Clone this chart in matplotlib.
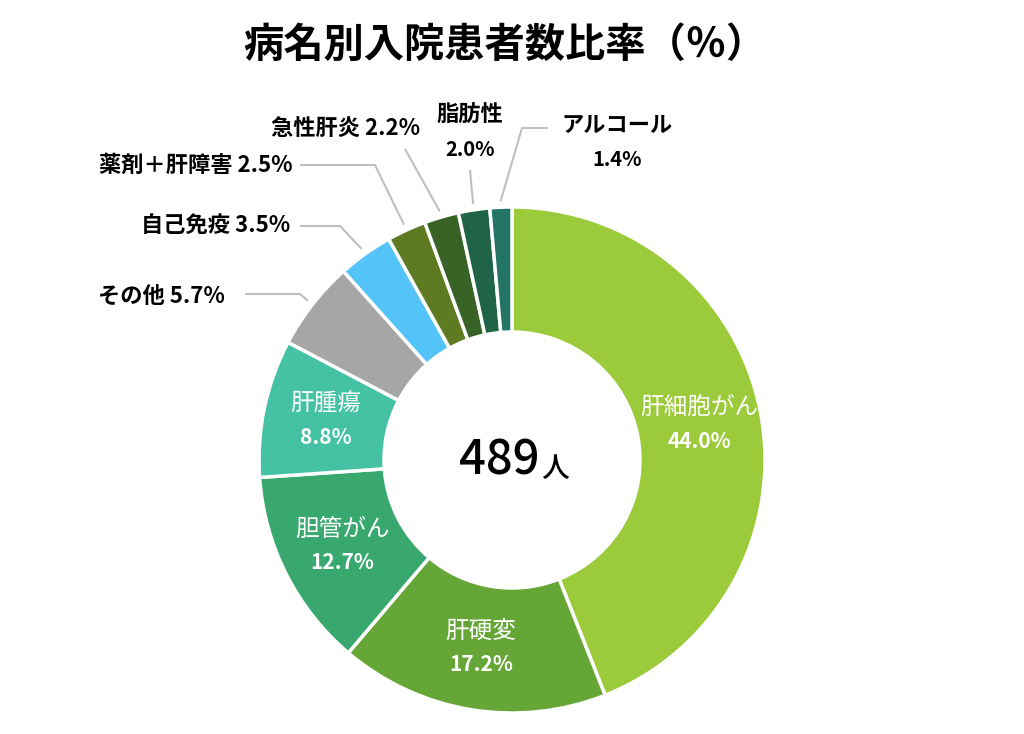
import matplotlib
matplotlib.use('Agg')
import matplotlib.pyplot as plt
import numpy as np

plt.rcParams['font.family'] = ['Noto Sans CJK JP', 'DejaVu Sans']

# Data (clockwise from 12 o'clock)
names = ["肝細胞がん", "肝硬変", "胆管がん", "肝腫瘍", "その他",
         "自己免疫", "薬剤＋肝障害", "急性肝炎", "脂肪性", "アルコール"]
shares = [44.0, 17.2, 12.7, 8.8, 5.7, 3.5, 2.5, 2.2, 2.0, 1.4]
colors = ["#9BCB3B", "#65A637", "#38A86E", "#45C2A3", "#A6A6A6",
          "#53C3F8", "#5E7B22", "#386226", "#1F6446", "#257567"]
total = 489
title = "病名別入院患者数比率（％）"

R_OUT = 253
R_IN = 128

fig = plt.figure(figsize=(10.24, 7.34), dpi=100)
ax = fig.add_axes([0, 0, 1, 1])

wedges, _ = ax.pie(shares, colors=colors, startangle=90, counterclock=False,
                   radius=R_OUT,
                   wedgeprops=dict(width=R_OUT - R_IN, edgecolor='white', linewidth=2.5))

# pie() resets the limits, so set them afterwards
ax.set_xlim(-512, 512)
ax.set_ylim(-274, 460)
ax.set_aspect('equal')
ax.axis('off')

def mid_angle(w):
    return np.deg2rad((w.theta1 + w.theta2) / 2)

# inside labels for the four big slices
r_mid = (R_OUT + R_IN) / 2
for i in range(4):
    a = mid_angle(wedges[i])
    x, y = r_mid * np.cos(a), r_mid * np.sin(a)
    ax.text(x, y + 17, names[i], color='white', fontsize=17,
            ha='center', va='center')
    ax.text(x, y - 17, f"{shares[i]:.1f}%", color='white', fontsize=15,
            fontweight='bold', ha='center', va='center')

# pixel (from top-left) -> data
def px(x, y):
    return x - 512, 460 - y

# outside labels: text anchor and leader line start points
outside = {
    4: dict(text=(225, 296), ha='right', path=[(245, 294), (300, 294)]),
    5: dict(text=(290, 226), ha='right', path=[(300, 226), (340, 226)]),
    6: dict(text=(293, 165), ha='right', path=[(300, 165), (375, 165)]),
    7: dict(text=(420, 128), ha='right', path=[(405, 149)]),
    8: dict(text=(470, 115), ha='center', path=[(470, 170)], two=True),
    9: dict(text=(617, 125), ha='center', path=[(548, 128), (522, 128)], two=True),
}

for i, o in outside.items():
    tx, ty = px(*o['text'])
    if o.get('two'):
        ax.text(tx, ty, names[i], fontsize=16, fontweight='bold',
                ha='center', va='center')
        ax.text(tx, ty - 35, f"{shares[i]:.1f}%", fontsize=14.5, fontweight='bold',
                ha='center', va='center')
    else:
        ax.text(tx, ty, f"{names[i]} {shares[i]:.1f}%", fontsize=16,
                fontweight='bold', ha=o['ha'], va='center')
    a = mid_angle(wedges[i])
    pts = [px(*p) for p in o['path']]
    pts.append((259 * np.cos(a), 259 * np.sin(a)))
    xs, ys = zip(*pts)
    ax.plot(xs, ys, color='#BFBFBF', linewidth=1.5, solid_capstyle='butt')

# center total
ax.text(28, -1, f"{total}", fontsize=34, fontweight='medium',
        ha='right', va='center')
ax.text(29, -8, "人", fontsize=20, fontweight='medium', ha='left', va='center')

# title
ax.text(-7, 460 - 45, title, fontsize=29, fontweight='bold',
        ha='center', va='center')

fig.savefig('out.png', dpi=100)
